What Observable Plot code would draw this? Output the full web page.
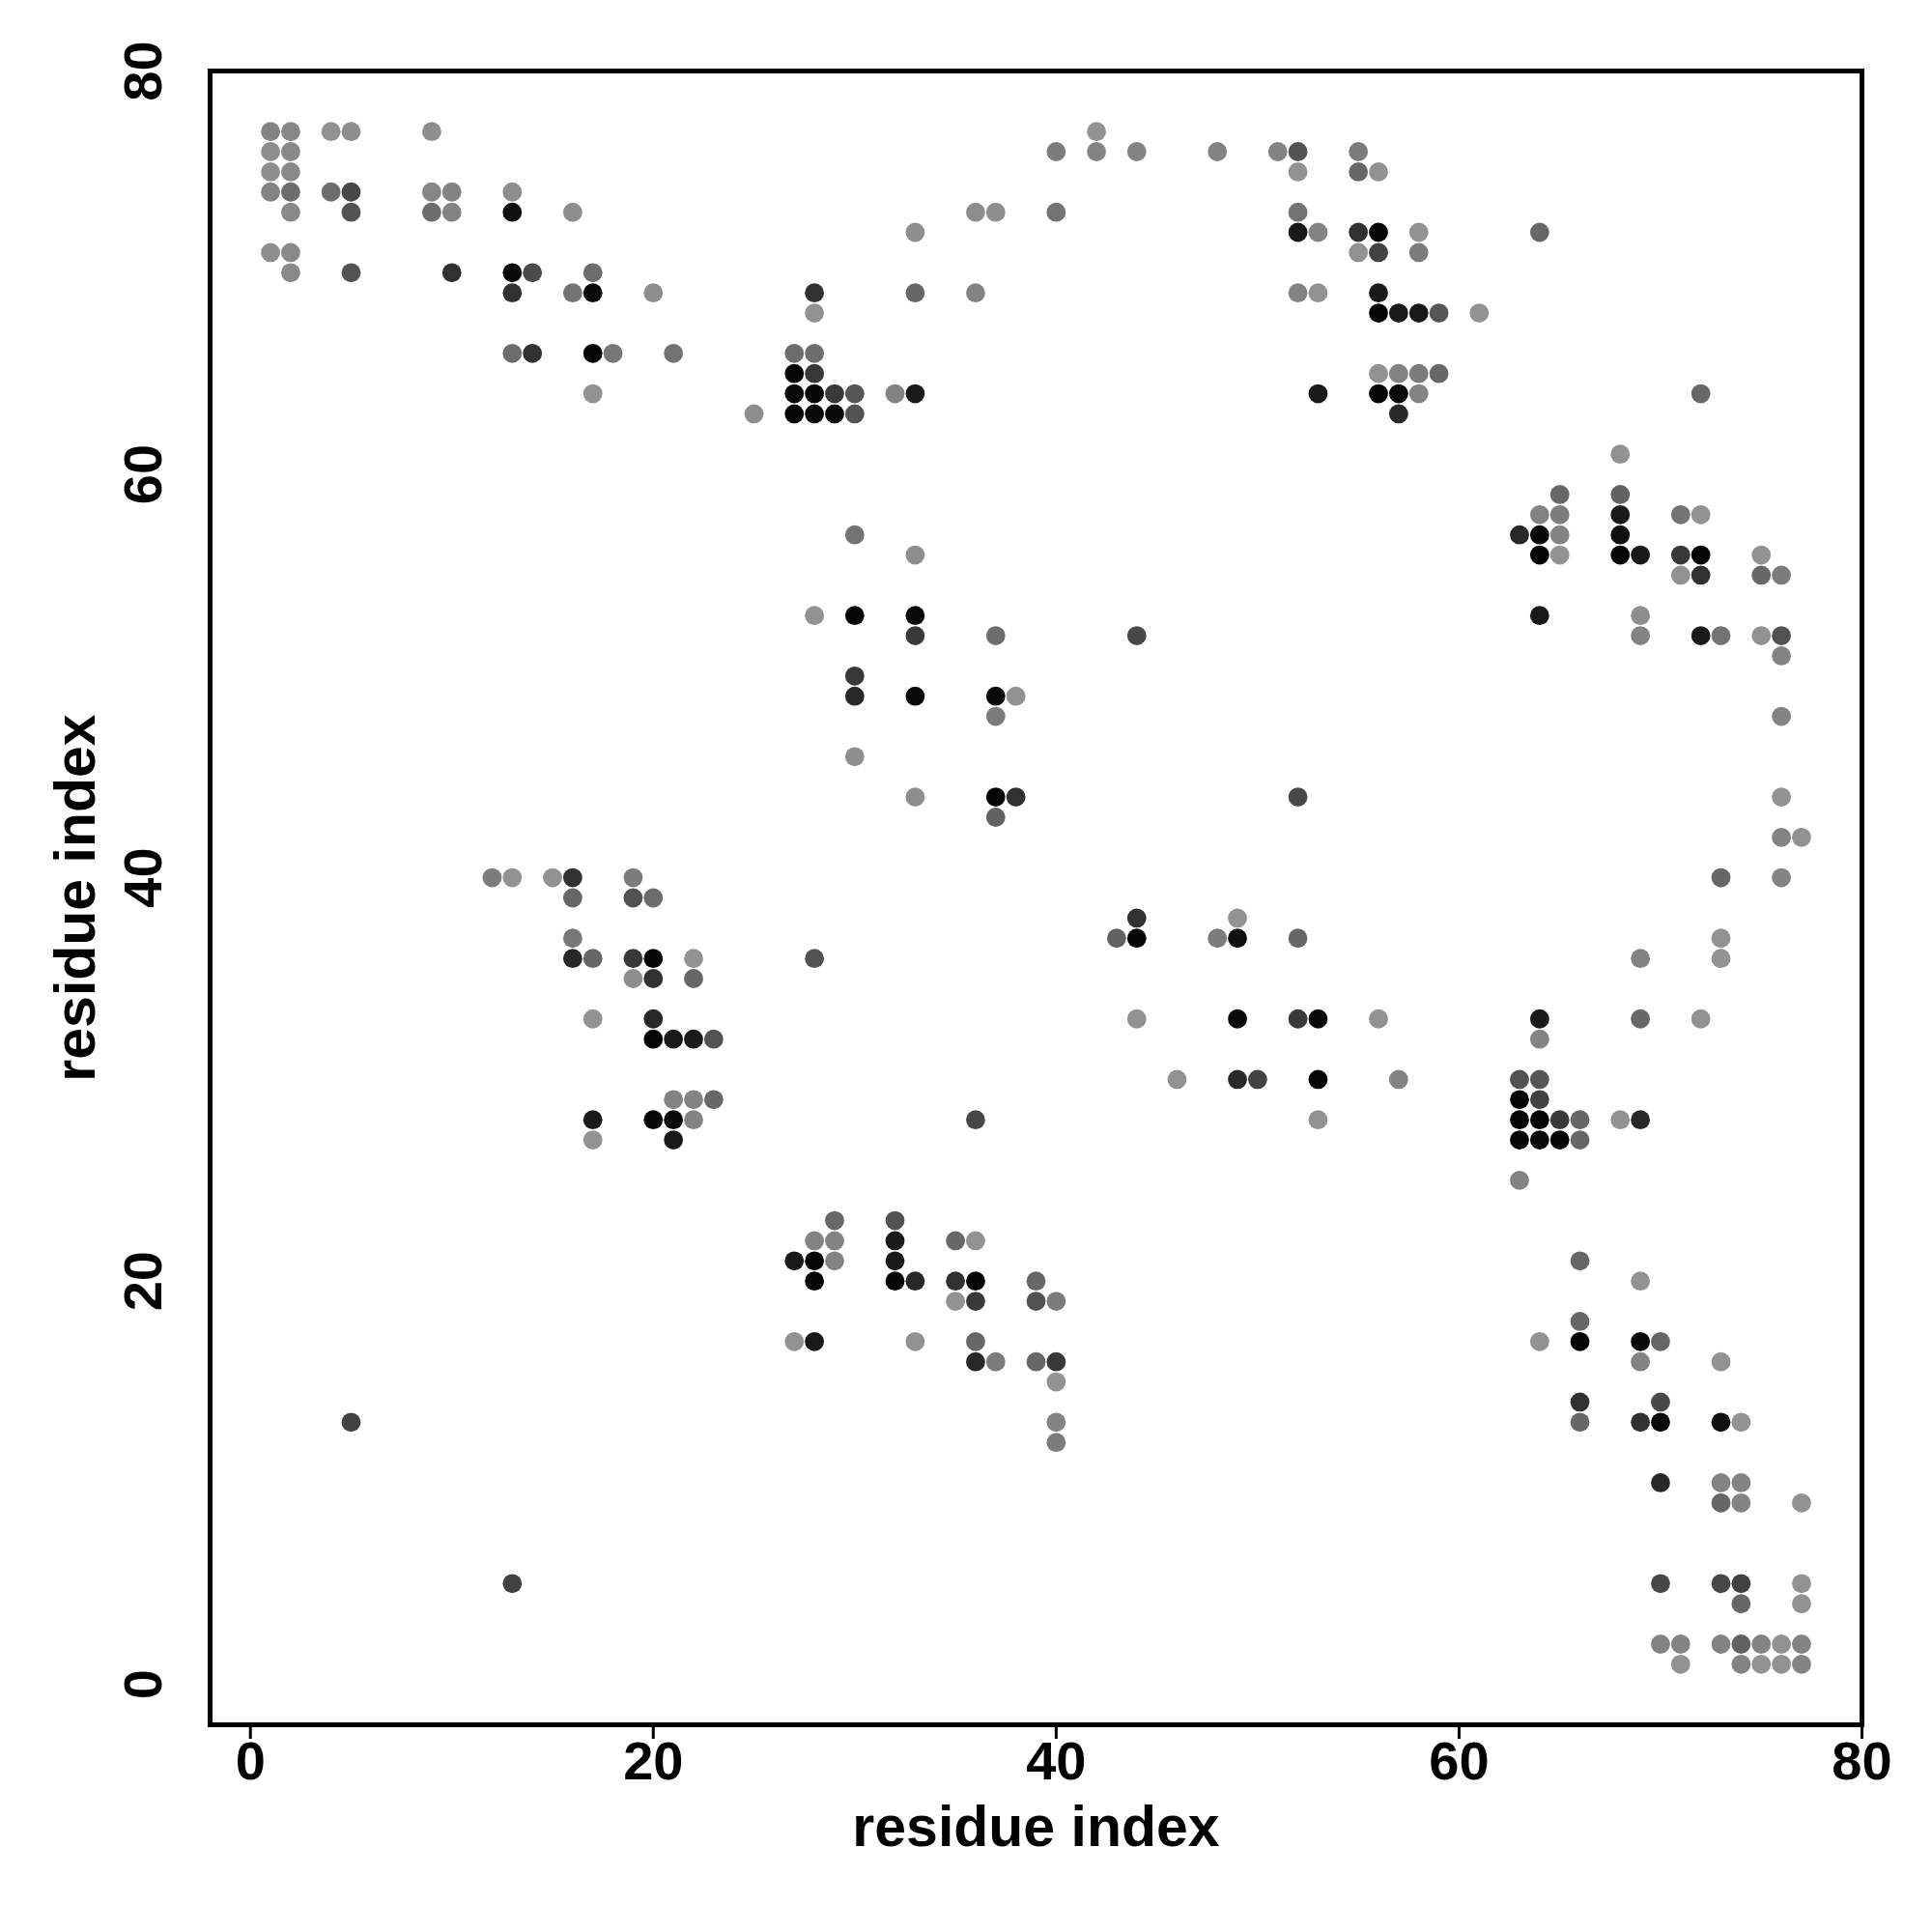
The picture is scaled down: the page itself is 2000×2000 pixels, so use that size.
<!DOCTYPE html>
<html><head><meta charset="utf-8">
<script src="https://cdn.jsdelivr.net/npm/d3@7"></script>
<script src="https://cdn.jsdelivr.net/npm/@observablehq/plot@0.6"></script>
<style>body{margin:0;background:#fff}</style>
</head><body><div id="chart"></div>
<script>
// residue i, residue j, contact strength (0 light grey .. 1 black)
const contactI = [
  1,2,4,5,9,1,2,1,2,1, 2,4,5,9,10,13,2,5,9,10, 13,16,1,2,2,5,10,13,14,17, 13,16,17,13,14,17,18,17,40,36,
  37,40,33,20,28,33,36,28,21,27, 28,27,28,27,28,29,30,32,33,25, 27,28,29,30,30,33,28,30,33,33,
  37,30,30,33,37,38,37,30,33,37, 38,37,12,13,15,16,19,16,19,20, 16,16,17,19,20,22,28,19,20,22,
  17,20,20,21,22,23,21,22,23,17, 20,21,22,36,17,21,5,13,29,32, 28,29,32,35,36,27,28,29,32,28,
  32,33,35,36,39,35,36,39,40,27, 28,33,36,36,37,39,40,40,40,40, 42,42,44,48,51,52,55,52,55,56,
  52,52,53,55,56,58,55,56,58,52, 53,56,56,57,58,59,56,57,58,59, 53,56,57,58,57,64,61,72,68,65,
  68,64,65,68,71,72,63,64,65,68, 64,65,68,69,71,72,75,71,72,75, 76,64,69,69,72,73,75,76,76,76,
  76,76,77,73,76,73,69,73,64,69, 72,64,63,64,63,64,63,64,65,66, 68,69,63,64,65,66,63,66,69,66,
  64,66,69,70,69,73,66,70,66,69, 70,73,74,70,73,74,73,74,77,70, 73,74,77,74,77,70,71,73,74,75,
  76,77,71,74,75,76,77,44,52,44, 43,44,48,49,49,52,44,49,52,53, 56,46,49,50,53,57,53
];
const contactJ = [
  77,77,77,77,77,76,76,75,75,74, 74,74,74,74,74,74,73,73,73,73, 73,73,71,71,70,70,70,70,70,70, 69,69,69,66,66,66,66,64,76,73,
  73,73,72,69,69,69,69,68,66,66, 66,65,65,64,64,64,64,64,64,63, 63,63,63,63,57,56,53,53,53,52,
  52,50,49,49,49,49,48,46,44,44, 44,43,40,40,40,40,40,39,39,39, 37,36,36,36,36,36,36,35,35,35,
  33,33,32,32,32,32,29,29,29,28, 28,28,28,28,27,27,13,5,23,23, 22,22,22,22,22,21,21,21,21,20,
  20,20,20,20,20,19,19,19,19,17, 17,17,17,16,16,16,16,15,13,12, 77,76,76,76,76,76,76,75,75,75,
  73,72,72,72,72,72,71,71,71,69, 69,69,68,68,68,68,65,65,65,65, 64,64,64,64,63,72,68,64,61,59,
  59,58,58,58,58,58,57,57,57,57, 56,56,56,56,56,56,56,55,55,55, 55,53,53,52,52,52,52,52,51,48,
  44,42,42,40,40,37,36,36,33,33, 33,32,30,30,29,29,28,28,28,28, 28,28,27,27,27,27,25,21,20,18,
  17,17,17,17,16,16,14,14,13,13, 13,13,13,10,10,10,9,9,9,5, 5,5,5,4,4,2,2,2,2,2,
  2,2,1,1,1,1,1,52,44,38, 37,37,37,37,38,37,33,33,33,33, 33,30,30,30,30,30,28
];
const contactP = [
  .12,.10,.02,.05,.05,.05,.08,.05,.08,.12, .27,.27,.52,.10,.12,.05,.08,.45,.27,.12, .89,.05,.05,.08,.08,.45,.67,.94,.50,.27, .67,.23,.94,.27,.67,.97,.20,.02,.17,.05,
  .05,.23,.05,.05,.67,.31,.12,.02,.23,.27, .27,.97,.62,.94,.97,.62,.42,.12,.83,.05, .97,.94,.94,.45,.23,.05,.02,.97,.94,.62,
  .27,.62,.73,.94,.94,.02,.17,.05,.05,.97, .67,.34,.17,.02,.02,.67,.17,.31,.45,.27, .20,.73,.31,.62,.97,.02,.45,.05,.67,.31,
  .02,.73,.97,.83,.83,.45,.12,.12,.31,.83, .97,.94,.12,.52,.02,.83,.56,.56,.31,.45, .12,.12,.83,.31,.02,.83,.97,.12,.83,.97,
  .97,.73,.67,.97,.31,.02,.62,.45,.17,.02, .83,.02,.31,.73,.17,.31,.62,.02,.12,.17, .02,.12,.12,.12,.12,.45,.17,.02,.31,.02,
  .23,.83,.12,.67,.97,.02,.02,.56,.17,.12, .02,.83,.97,.83,.83,.42,.02,.12,.17,.31, .83,.97,.94,.12,.73,.31,.02,.31,.02,.31,
  .34,.12,.17,.83,.23,.02,.73,.97,.12,.89, .97,.02,.97,.83,.62,.97,.02,.02,.67,.31, .17,.83,.05,.12,.83,.23,.02,.45,.12,.12,
  .02,.12,.02,.31,.12,.02,.12,.02,.83,.31, .02,.12,.45,.42,.97,.56,.97,.97,.62,.31, .02,.73,.97,.94,.97,.31,.12,.31,.02,.31,
  .02,.97,.94,.31,.12,.02,.67,.52,.31,.67, .94,.89,.02,.73,.12,.12,.31,.12,.02,.52, .52,.56,.02,.31,.02,.12,.12,.12,.34,.12,
  .02,.12,.02,.12,.02,.02,.12,.52,.52,.67, .34,.97,.17,.89,.02,.31,.02,.94,.62,.94, .02,.02,.73,.56,.97,.12,.02
];
const xTicks = [0, 20, 40, 60, 80];
const yTicks = [0, 20, 40, 60, 80];
const axisTitle = "residue index";

const contacts = contactI.map((i, k) => ({i, j: contactJ[k], p: contactP[k]}));

const chart = Plot.plot({
  width: 2000, height: 2000,
  marginLeft: 217, marginRight: 73, marginTop: 73, marginBottom: 215,
  style: {fontFamily: "'Liberation Sans', Arial, sans-serif", background: "#fff", color: "#000"},
  x: {domain: [-2, 80]},
  y: {domain: [-2, 80]},
  color: {type: "linear", domain: [0, 1], range: ["#959595", "#000000"]},
  marks: [
    Plot.dot(contacts, {x: "i", y: "j", fill: "p", r: 9.9}),
    Plot.frame({stroke: "#000", strokeWidth: 5}),
    Plot.axisX(xTicks, {tickSize: 15, tickPadding: 2, strokeWidth: 3, fontSize: 56, fontWeight: "bold", label: null}),
    Plot.axisY(yTicks, {tickSize: 15, tickPadding: 53, strokeWidth: 3, fontSize: 56, fontWeight: "bold", rotate: -90, textAnchor: "middle", label: null}),
    Plot.text([axisTitle], {frameAnchor: "bottom", dy: 107, fontSize: 59, fontWeight: "bold", lineAnchor: "middle", textAnchor: "middle"}),
    Plot.text([axisTitle], {frameAnchor: "left", dx: -138, rotate: -90, fontSize: 59, fontWeight: "bold", lineAnchor: "middle", textAnchor: "middle"})
  ]
});
document.getElementById("chart").appendChild(chart);
</script></body></html>
